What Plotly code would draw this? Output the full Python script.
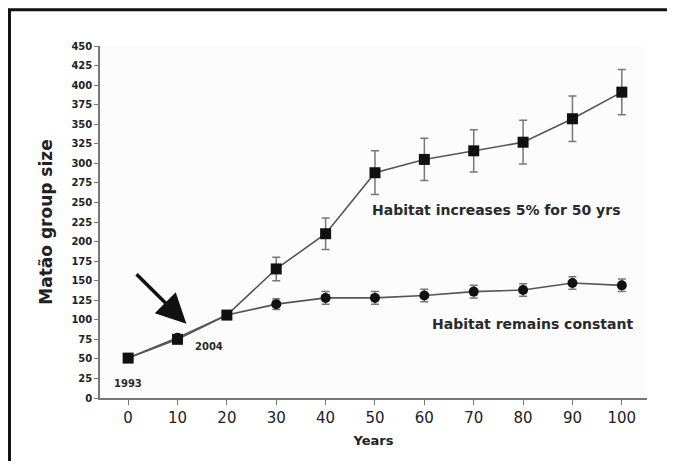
import plotly.graph_objects as go

years = [0, 10, 20, 30, 40, 50, 60, 70, 80, 90, 100]
increase = [51, 75, 106, 165, 210, 288, 305, 316, 327, 357, 391]
increase_err = [3, 3, 5, 15, 20, 28, 27, 27, 28, 29, 29]
constant = [51, 77, 106, 120, 128, 128, 131, 136, 138, 147, 144]
constant_err = [3, 3, 5, 7, 8, 8, 8, 8, 8, 8, 8]

y_ticks = list(range(0, 451, 25))
x_ticks = list(range(0, 101, 10))

FONT = "DejaVu Sans"

fig = go.Figure()
fig.add_trace(go.Scatter(
    x=years, y=constant, mode="lines+markers",
    line=dict(color="#555555", width=1.6),
    marker=dict(symbol="circle", size=10, color="#111111"),
    error_y=dict(type="data", array=constant_err, color="#777777", thickness=1.5, width=4),
    showlegend=False,
))
fig.add_trace(go.Scatter(
    x=years, y=increase, mode="lines+markers",
    line=dict(color="#555555", width=1.6),
    marker=dict(symbol="square", size=11, color="#111111"),
    error_y=dict(type="data", array=increase_err, color="#777777", thickness=1.5, width=4),
    showlegend=False,
))

annots = [
    dict(x=74.7, y=240, text="Habitat increases 5% for 50 yrs", size=14),
    dict(x=82, y=95, text="Habitat remains constant", size=14),
    dict(x=0, y=18, text="1993", size=10),
    dict(x=16.4, y=65.5, text="2004", size=10),
]
for a in annots:
    fig.add_annotation(x=a["x"], y=a["y"], xref="x", yref="y", text=a["text"],
                       showarrow=False,
                       font=dict(family=FONT, size=a["size"], color="#2a2a2a", weight="bold"))

fig.add_annotation(x=11.8, y=95, ax=1.4, ay=160, xref="x", yref="y", axref="x", ayref="y",
                   text="", showarrow=True, arrowhead=2, arrowsize=1.7, arrowwidth=3.5,
                   arrowcolor="#111111")

fig.add_shape(type="rect", xref="paper", yref="paper", x0=-0.1655, y0=-0.3, x1=1.2, y1=1.1027,
              line=dict(color="#111111", width=3), fillcolor="rgba(0,0,0,0)", layer="below")

fig.update_layout(
    width=659, height=453,
    margin=dict(l=92, r=20, t=38, b=63),
    paper_bgcolor="white", plot_bgcolor="#fcfcfc",
    font=dict(family=FONT, color="#222222"),
    xaxis=dict(range=[-5.7, 105.1], tickvals=x_ticks, showgrid=False, zeroline=False,
               automargin=False,
               showline=True, linecolor="#777777", linewidth=1.5,
               ticks="outside", ticklen=5, tickcolor="#777777",
               tickfont=dict(family=FONT, size=15, color="#222222"),
               title=dict(text="<b>Years</b>", font=dict(family=FONT, size=13), standoff=10)),
    yaxis=dict(range=[0, 450], tickvals=y_ticks, showgrid=False, zeroline=False,
               automargin=False,
               showline=True, linecolor="#777777", linewidth=1.5,
               ticks="outside", ticklen=4, tickcolor="#777777",
               tickfont=dict(family=FONT, size=10, color="#222222", weight="bold"),
               title=dict(text="<b>Matão group size</b>", font=dict(family=FONT, size=17), standoff=14)),
)

fig.write_html("out.html")
